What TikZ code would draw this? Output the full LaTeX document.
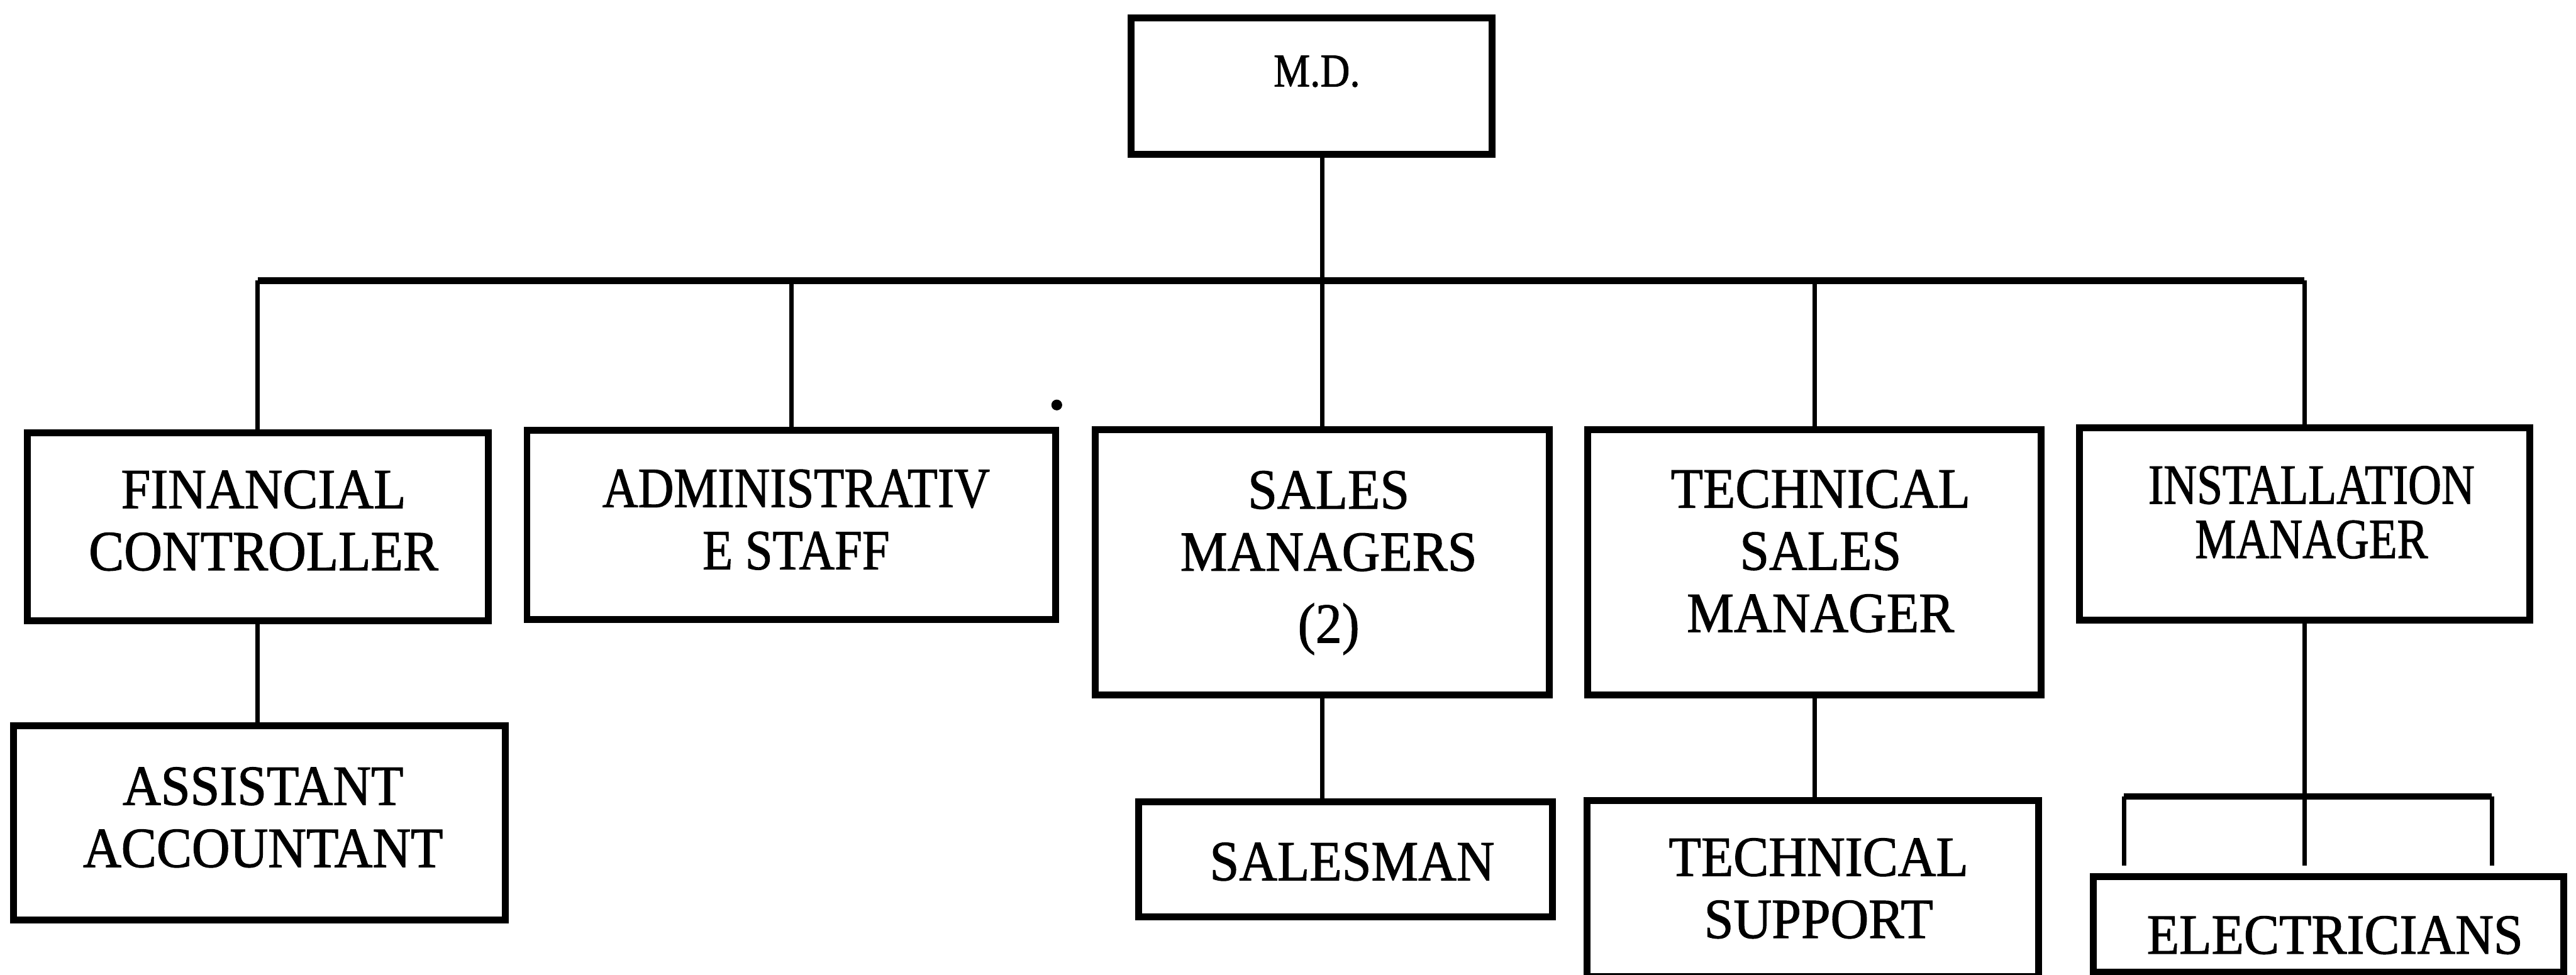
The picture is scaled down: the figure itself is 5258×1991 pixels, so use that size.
\documentclass[tikz,border=0pt]{standalone}
\usepackage{fontspec}
\setmainfont{Liberation Serif}
\newfontfamily\fA[FakeStretch=0.93,FakeBold=1.2]{Liberation Serif}
\newfontfamily\fB[FakeStretch=0.87,FakeBold=1.2]{Liberation Serif}
\newfontfamily\fC[FakeStretch=0.81,FakeBold=1.2]{Liberation Serif}
\begin{document}
\begin{tikzpicture}[x=0.01cm, y=-0.01cm,
  box/.style 2 args={draw, line width=0.14cm, inner sep=0pt, minimum width=#1, minimum height=#2},
  lbl/.style={anchor=north, inner sep=0pt, align=center, font={\fontsize{33pt}{36.1pt}\fA}},
  conn/.style={line width=0.09cm},
  busline/.style={line width=0.15cm}]
\useasboundingbox (0,0) rectangle (5258,1991);

% boxes
\node[box={7.36cm}{2.78cm}]  (md)    at (2677,176)    {};
\node[box={9.40cm}{3.84cm}]  (fc)    at (526,1076)    {};
\node[box={10.78cm}{3.86cm}] (adm)   at (1615,1072)   {};
\node[box={9.26cm}{5.41cm}]  (sales) at (2699,1148.5) {};
\node[box={9.25cm}{5.41cm}]  (tech)  at (3703.5,1148.5) {};
\node[box={9.18cm}{3.92cm}]  (inst)  at (4704,1070)   {};
\node[box={10.03cm}{3.97cm}] (asst)  at (529.5,1680.5) {};
\node[box={8.44cm}{2.35cm}]  (sm)    at (2746,1754.5) {};
\node[box={9.21cm}{3.59cm}]  (ts)    at (3700.5,1814.5) {};
\node[box={9.60cm}{1.95cm}]  (elec)  at (4753,1887.5) {};

% labels
\node[lbl, font={\fontsize{27.3pt}{30pt}\fB}] (mdT) at (2688,113) {M.D.};
\node[lbl] (fcT)    at (538,960)   {FINANCIAL\\CONTROLLER};
\node[lbl, font={\fontsize{33pt}{36.1pt}\fB}] (admT) at (1625,958) {ADMINISTRATIV\\E STAFF};
\node[lbl] (salesT) at (2712,961)  {SALES\\MANAGERS\\[5.7pt](2)};
\node[lbl] (techT)  at (3716,959)  {TECHNICAL\\SALES\\MANAGER};
\node[lbl, font={\fontsize{33pt}{31.6pt}\fC}] (instT) at (4718,951) {INSTALLATION\\MANAGER};
\node[lbl] (asstT)  at (537,1566)  {ASSISTANT\\ACCOUNTANT};
\node[lbl] (smT)    at (2760,1720) {SALESMAN};
\node[lbl] (tsT)    at (3712,1711) {TECHNICAL\\SUPPORT};
\node[lbl] (elecT)  at (4766,1870) {ELECTRICIANS};

% main bus
\coordinate (busy) at (0,573);
\draw[busline] (fc.north |- busy) -- (inst.north |- busy);
\draw[conn] (md.south -| sales.north) -- (sales.north);
\draw[conn] (fc.north |- busy) -- (fc.north);
\draw[conn] (adm.north |- busy) -- (adm.north);
\draw[conn] (tech.north |- busy) -- (tech.north);
\draw[conn] (inst.north |- busy) -- (inst.north);

% second level
\draw[conn] (fc.south) -- (fc.south |- asst.north);
\draw[conn] (sales.south) -- (sales.south |- sm.north);
\draw[conn] (tech.south) -- (tech.south |- ts.north);

% installation sub-bus
\coordinate (sb) at (0,1626);
\coordinate (eL) at (4335,1767);
\coordinate (eR) at (5086,1767);
\draw[conn] (inst.south) -- (inst.south |- eL);
\draw[line width=0.13cm] (eL |- sb) -- (eR |- sb);
\draw[conn] (eL |- sb) -- (eL);
\draw[conn] (eR |- sb) -- (eR);

% scan speck
\fill (2157,827) circle (11);
\end{tikzpicture}
\end{document}
